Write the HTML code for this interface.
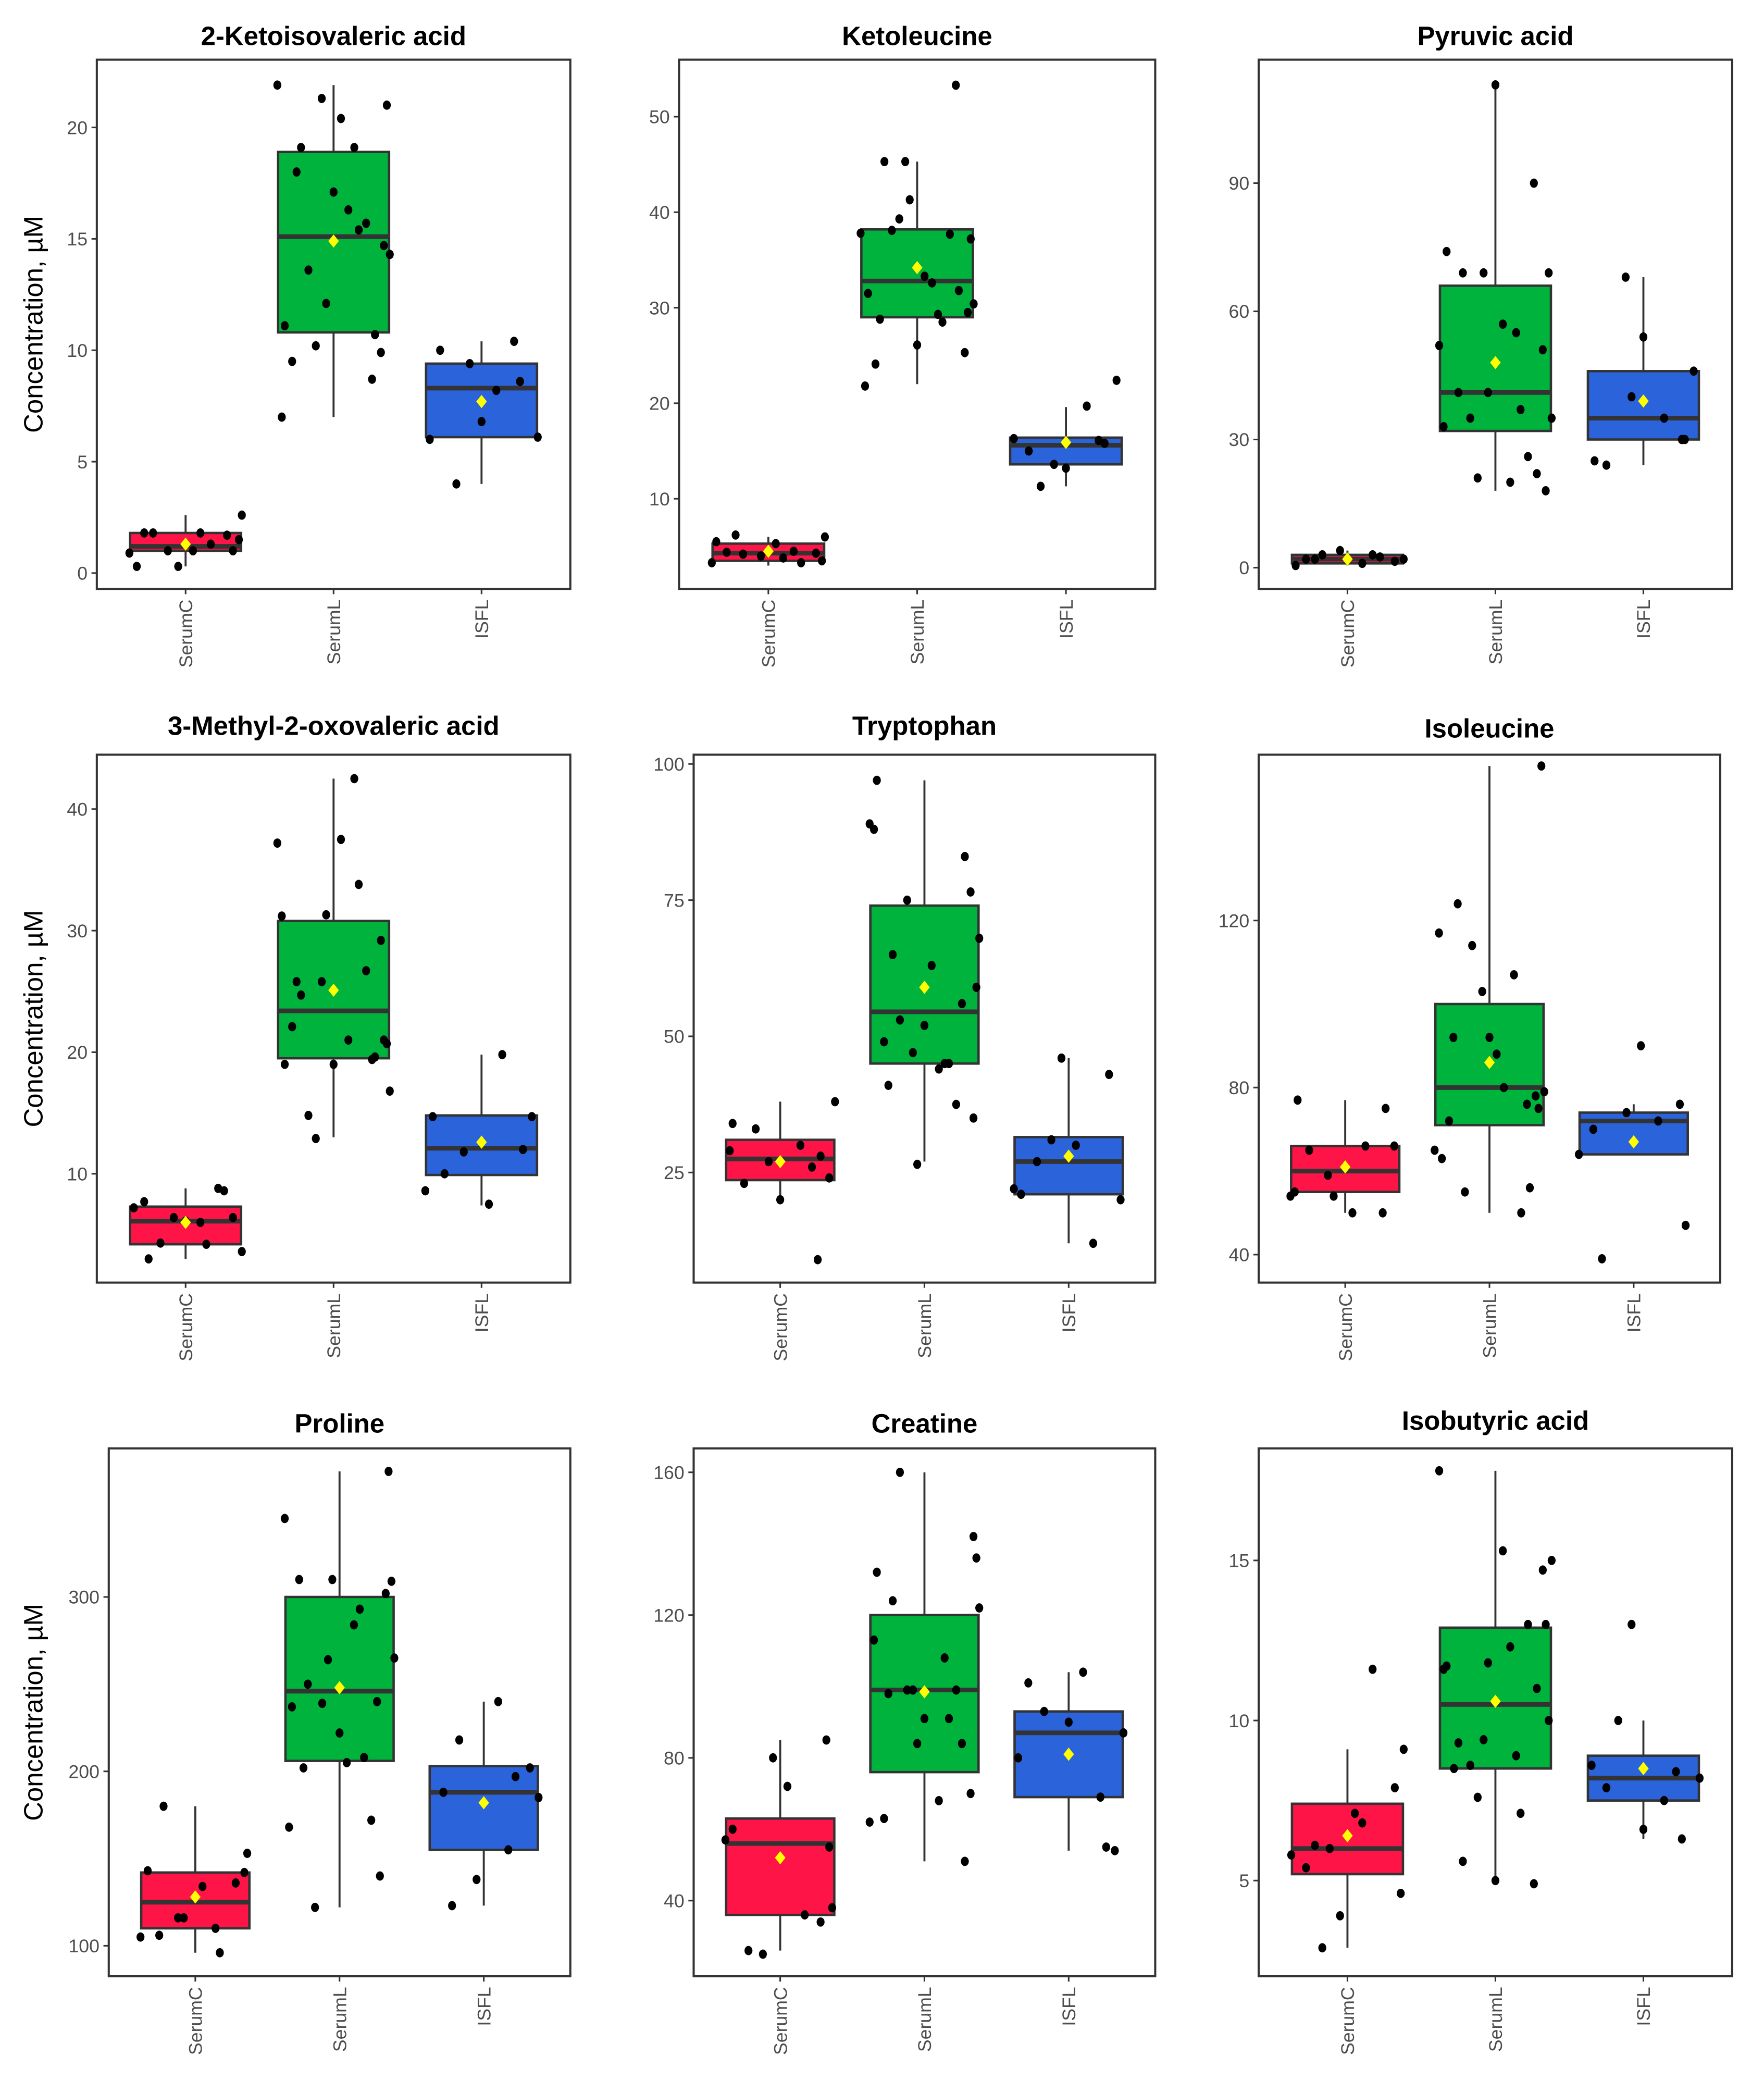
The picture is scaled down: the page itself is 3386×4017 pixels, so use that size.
<!DOCTYPE html>
<html><head><meta charset="utf-8"><style>
html,body{margin:0;padding:0;background:#fff;}
svg{display:block;}
text{font-family:"Liberation Sans",Arial,sans-serif;}
</style></head><body>
<svg id="chart" width="3386" height="4017" viewBox="0 0 1330 1578" preserveAspectRatio="none" xmlns="http://www.w3.org/2000/svg"></svg>
<script>
const categories = ["SerumC","SerumL","ISFL"];
const titles = ["2-Ketoisovaleric acid","Ketoleucine","Pyruvic acid","3-Methyl-2-oxovaleric acid","Tryptophan","Isoleucine","Proline","Creatine","Isobutyric acid"];
const tickLabels = [[0,5,10,15,20],[10,20,30,40,50],[0,30,60,90],[10,20,30,40],[25,50,75,100],[40,80,120],[100,200,300],[40,80,120,160],[5,10,15]];
const yDomains = [[-0.71,23.04],[0.56,55.97],[-4.97,118.9],[1.05,44.47],[4.79,101.7],[33.3,159.7],[82.5,385.2],[18.8,166.7],[2.01,18.5]];
// box stats per panel per group: [q1, median, q3, whiskerLow, whiskerHigh, mean]
const boxStats = [
 [[1.0,1.2,1.8,0.3,2.6,1.3],[10.8,15.1,18.9,7.0,21.9,14.9],[6.1,8.3,9.4,4.0,10.4,7.7]],
 [[3.5,4.3,5.3,3.0,6.0,4.5],[29,32.8,38.2,22,45.3,34.2],[13.6,15.6,16.4,11.3,19.6,15.9]],
 [[1,2,3,0.5,4,2],[32,41,66,18,113,48],[30,35,46,24,68,39]],
 [[4.2,6.1,7.3,3.0,8.8,6.0],[19.5,23.4,30.8,13.0,42.5,25.1],[9.9,12.1,14.8,7.4,19.8,12.6]],
 [[23.6,27.5,31,20,38,27],[45,54.5,74,27,97,59],[21,27,31.5,12,46,28]],
 [[55,60,66,50,77,61],[71,80,100,50,157,86],[64,72,74,64,76,67]],
 [[110,125,142,96,180,128],[206,246,300,122,372,248],[155,188,203,123,240,182]],
 [[36,56,63,26,85,52],[76,99,120,51,160,98.5],[69,87,93,54,104,81]],
 [[5.2,6.0,7.4,2.9,9.1,6.4],[8.5,10.5,12.9,5,17.8,10.6],[7.5,8.2,8.9,6.3,10,8.5]]
];
const pointsSerumC = [
 [0.3,1.7,1.0,1.0,0.9,1.5,1.8,1.3,0.3,1.0,1.8,1.8,2.6],
 [5.3,3.3,3.5,6.2,4.5,4.0,4.3,4.4,3.8,6.0,4.2,3.3,5.5],
 [2,3,4,1.5,2,1,2,3,2.5,0.5],
 [6.4,7.7,6.0,3.6,4.3,8.8,7.2,6.1,8.6,6.4,4.2,3.0],
 [38,33,26,29,20,9,27,30,23,24,34,28],
 [55,61,50,54,66,65,66,77,75,59,50,54],
 [116,110,106,142,143,136,116,134,105,153,180,96],
 [55,60,34,25,72,57,38,26,36,80,85],
 [6.0,7.1,5.8,4.6,6.1,11.6,3.9,7.9,5.4,6.8,9.1,2.9]
];
const pointsSerumL = [
 [21.0,19.1,15.4,12.1,9.9,9.5,16.3,14.3,13.6,15.7,7.0,17.1,8.7,21.3,19.1,18.0,14.7,11.1,10.7,10.2,20.4,21.9],
 [41.3,25.3,24.1,32.6,30.4,38.1,37.7,21.8,26.1,53.3,45.3,29.3,28.8,29.5,31.5,31.8,39.3,33.3,37.8,37.2,45.3,28.5],
 [20,35,35,26,33,113,90,69,55,41,18,74,22,21,57,52,69,69,37,41,51],
 [26.7,31.2,19.0,19.4,25.8,42.5,25.8,21.0,19.0,19.6,12.9,37.5,37.2,20.7,24.7,33.8,31.3,29.2,22.1,21.0,16.8,14.8],
 [56,47,45,41,35,97,83,75,63,89,59,65,45,26.5,76.5,49,44,68,53,37.5,88,52],
 [92,75,63,56,114,88,65,157,124,107,103,78,72,80,79,55,50,117,92,76],
 [140,239,205,345,309,250,208,310,302,310,284,265,122,172,168,222,240,264,293,202,372,237],
 [62,136,124,91,84,70,63,68,122,160,99,113,91,84,99,108,98,142,132,51,99],
 [7.1,11.8,14.7,8.5,12.3,15.0,8.6,13.0,11.6,5.0,4.9,9.4,8.9,9.3,13.0,11.7,11.0,7.6,15.3,17.8,10.0,5.6]
];
const pointsISFL = [
 [10.0,8.2,6.1,4.0,10.4,6.0,6.8,8.6,9.4],
 [11.3,16.1,16.3,13.2,15.8,13.6,19.7,15.0,22.4],
 [54,30,40,35,24,46,25,30,68],
 [19.8,10.0,14.7,14.7,12.0,11.8,7.5,8.6],
 [21,43,31,30,22,20,27,12,46],
 [90,64,47,39,72,74,76,70],
 [123,155,138,202,188,240,185,218,197],
 [54,101,104,87,93,69,80,90,55],
 [8.2,10.0,8.4,8.6,6.6,6.3,13.0,7.5,7.9]
];
const jitterPattern = [-0.33,0.28,-0.12,0.05,-0.38,0.36,-0.22,0.17,-0.05,0.32,-0.28,0.1,0.38,-0.17,0.22,-0.35,0.0,0.26,-0.08,0.14,-0.25,0.34];

const svg = document.getElementById('chart');
const NS = 'http://www.w3.org/2000/svg';
function mk(tag, attrs, parent){const e=document.createElementNS(NS,tag);for(const k in attrs)e.setAttribute(k,attrs[k]);(parent||svg).appendChild(e);return e;}
const colors = ["#FF1447","#00B33C","#2B63DB"];
const frames = [
 [73,45,430,444],[512,45,871,444],[949,45,1306,444],
 [73,569,430,967],[523,569,871,967],[949,569,1297,967],
 [82,1092,430,1490],[523,1092,871,1490],[949,1092,1306,1490]
];
const titleY = [27,27,27,547,547,549,1073,1073,1071];

for(let p=0;p<9;p++){
  const [L,T,R,B]=frames[p];
  const g=mk('g',{});
  
  
  const [d0,d1]=yDomains[p];
  const y=v=>B-(v-d0)/(d1-d0)*(B-T);
  const xc=i=>L+(R-L)*(0.6+i)/3.2;
  const bw=(R-L)*0.75/3.2;
  const t=mk('text',{x:(L+R)/2,y:titleY[p]+7,'text-anchor':'middle','font-size':20,'font-weight':'bold',fill:'#000'},g);
  t.textContent=titles[p];
  
  
  tickLabels[p].forEach(v=>{
    mk('line',{x1:L-4,x2:L,y1:y(v),y2:y(v),stroke:'#333','stroke-width':1.2},g);
    const tl=mk('text',{x:L-7,y:y(v)+5,'text-anchor':'end','font-size':14,fill:'#4d4d4d'},g);
    tl.textContent=v;
    
    
  });
  if(p%3===0){
    const yt=mk('text',{x:0,y:0,'text-anchor':'middle','font-size':20,fill:'#000',transform:`translate(32,${(T+B)/2}) rotate(-90)`},g);
    yt.textContent='Concentration, µM';
    
    
  }
  const pts=[pointsSerumC[p],pointsSerumL[p],pointsISFL[p]];
  categories.forEach((c,i)=>{
    const cx=xc(i);const s=boxStats[p][i];
    mk('line',{x1:L+0,x2:L,y1:0,y2:0},g);
    mk('line',{x1:cx,x2:cx,y1:B,y2:B+4,stroke:'#333','stroke-width':1.2},g);
    const xl=mk('text',{x:0,y:0,'text-anchor':'end','font-size':14,fill:'#4d4d4d',transform:`translate(${cx+5},${B+8}) rotate(-90)`},g);
    xl.textContent=c;
    
    
    const w1=mk('line',{x1:cx,x2:cx,y1:y(s[3]),y2:y(s[4]),stroke:'#333','stroke-width':1.5},g);
    
    
    const r=mk('rect',{x:cx-bw/2,y:y(s[2]),width:bw,height:y(s[0])-y(s[2]),fill:colors[i],stroke:'#333','stroke-width':1.8},g);
    
    
    const md=mk('line',{x1:cx-bw/2,x2:cx+bw/2,y1:y(s[1]),y2:y(s[1]),stroke:'#333','stroke-width':3.5},g);
    
    
    pts[i].forEach((v,k)=>{
      const px=cx+jitterPattern[(k+p*3+i*5)%jitterPattern.length]*(R-L)/3.2;
      const d=mk('ellipse',{cx:px,cy:y(v),rx:3,ry:3.5,fill:'#000'},g);
      
      
    });
    const my=y(s[5]);
    const dm=mk('polygon',{points:`${cx},${my-5} ${cx+4},${my} ${cx},${my+5} ${cx-4},${my}`,fill:'#FFFF00'},g);
    
    
  });
  const fr=mk('rect',{x:L,y:T,width:R-L,height:B-T,fill:'none',stroke:'#333','stroke-width':1.6},g);
  
  
}
</script>
</body></html>
